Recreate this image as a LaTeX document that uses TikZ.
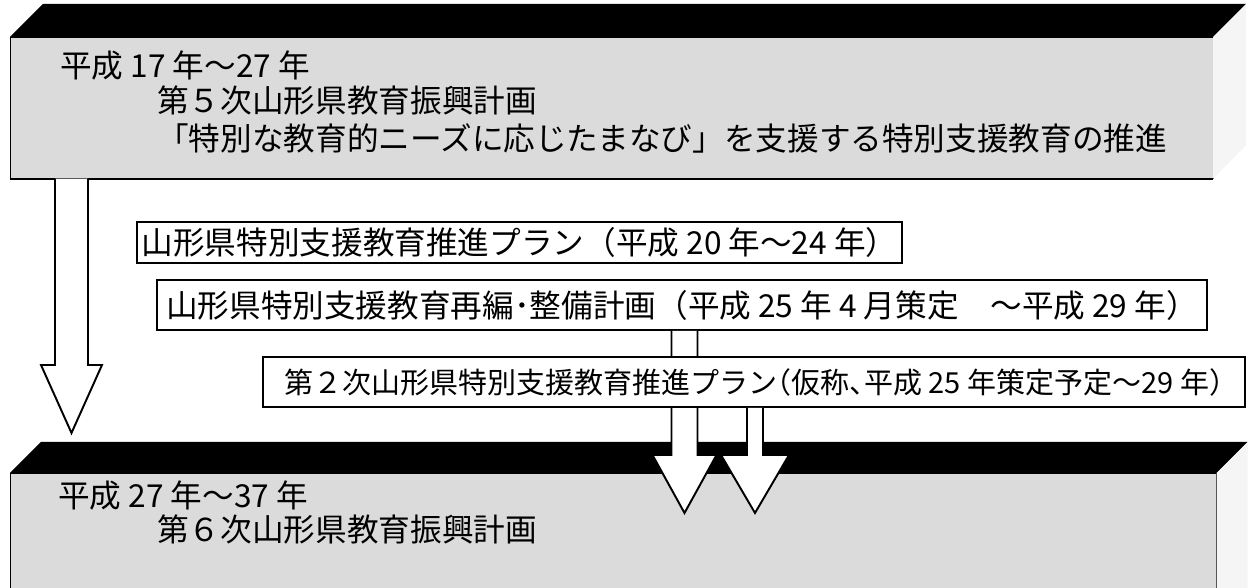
\documentclass[tikz,border=0pt]{standalone}
\usepackage{fontspec}
\setmainfont{Noto Sans CJK JP}
\newfontfamily\halfpunct[RawFeature=+halt]{Noto Sans CJK JP}
\usepackage{tikz}
\usetikzlibrary{positioning,calc}
\definecolor{stipple}{gray}{0.86}
\definecolor{sidegrey}{gray}{0.96}
\newcommand{\blockarrow}[5]{%
  \filldraw[hollow] ($(#1)+(-#3,0)$) -- ($(#2)+(-#3,#5)$) -- ($(#2)+(-#4,#5)$) -- (#2)
    -- ($(#2)+(#4,#5)$) -- ($(#2)+(#3,#5)$) -- ($(#1)+(#3,0)$);}

\begin{document}
\begin{tikzpicture}[
    face/.style={rectangle, draw=black, line width=0.4pt, fill=stipple, anchor=north west, inner sep=0pt},
    txt/.style={anchor=west, inner sep=0pt, font=\fontsize{18}{20}\selectfont},
    planbox/.style={rectangle, draw=black, line width=1pt, fill=white, inner sep=0pt, font=\fontsize{18}{20}\selectfont},
    hollow/.style={draw=black, line width=1.1pt, fill=white, line join=miter}
]
\useasboundingbox (0,0) rectangle (25,11.76);

\node[face, minimum width=24.05cm, minimum height=2.82cm] (plan5) at (0.20,11.02) {};
\fill (plan5.north west) -- ++(0.66,0.66) -- ($(plan5.north east)+(0.66,0.66)$) -- (plan5.north east) -- cycle;
\fill[sidegrey] (plan5.north east) -- ++(0.66,0.66) -- ++(0,-2.82) -- (plan5.south east) -- cycle;
\draw[line width=1.2pt] (plan5.south west) -- (plan5.south east);
\node[txt] (period5) at (1.20,10.44) {平成 17 年～27 年};
\node[txt] (title5) at (3.14,9.74) {第５次山形県教育振興計画};
\node[txt] (aim5) at (3.14,9.00) {「特別な教育的ニーズに応じたまなび」を支援する特別支援教育の推進};

\node[face, minimum width=24.12cm, minimum height=2.6cm] (plan6) at (0.20,2.30) {};
\fill (plan6.north west) -- ++(0.62,0.62) -- ($(plan6.north east)+(0.62,0.62)$) -- (plan6.north east) -- cycle;
\fill[sidegrey] (plan6.north east) -- ++(0.62,0.62) -- ++(0,-2.92) -- ++(-0.62,0) -- cycle;
\node[txt] (period6) at (1.16,1.84) {平成 27 年～37 年};
\node[txt] (title6) at (3.14,1.16) {第６次山形県教育振興計画};

\node[planbox, minimum width=15.30cm, minimum height=0.82cm] (promo1) at (10.39,6.91) {山形県特別支援教育推進プラン（平成 20 年～24 年）};
\node[planbox, minimum width=21.00cm, minimum height=1.00cm] (reorg) at (13.64,5.66) {山形県特別支援教育再編･整備計画（平成 25 年 4 月策定　～平成 29 年）};
\coordinate (tipA) at (13.69,1.50);
\blockarrow{tipA |- reorg.south}{tipA}{0.26}{0.64}{1.16}
\node[planbox, minimum width=19.64cm, minimum height=1.00cm, font=\halfpunct\fontsize{16.5}{20}\selectfont] (promo2) at (15.08,4.12) {第２次山形県特別支援教育推進プラン（仮称、平成 25 年策定予定～29 年）};
\coordinate (tipB) at (15.10,1.50);
\blockarrow{tipB |- promo2.south}{tipB}{0.16}{0.68}{1.16}
\coordinate (tip5) at (1.43,3.10);
\blockarrow{tip5 |- plan5.south}{tip5}{0.33}{0.61}{1.36}
\end{tikzpicture}
\end{document}
